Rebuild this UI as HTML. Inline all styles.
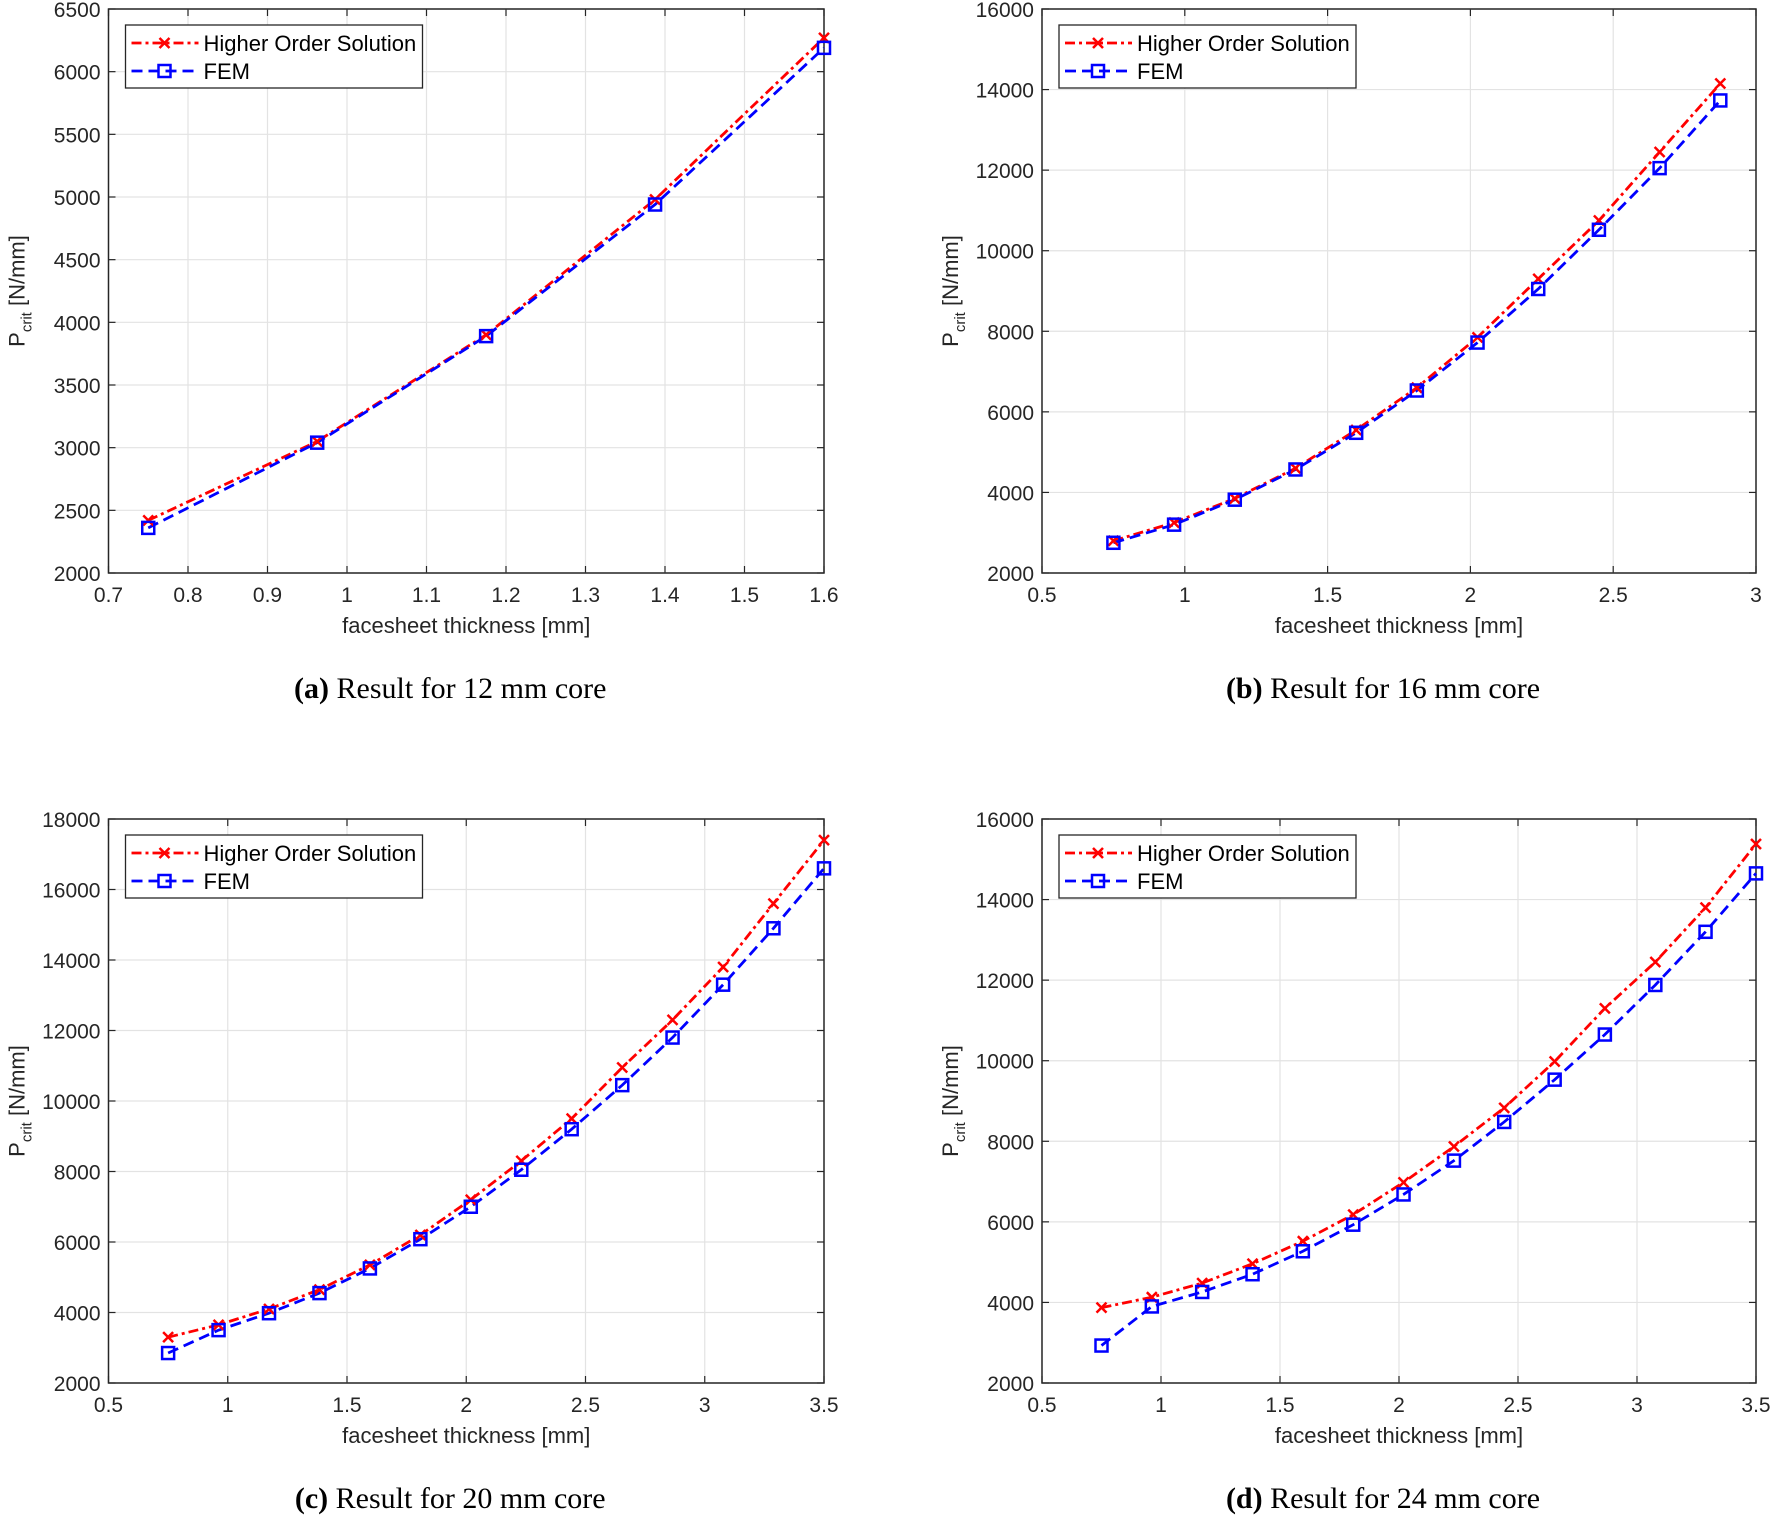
<!DOCTYPE html>
<html><head><meta charset="utf-8"><style>
body{margin:0;background:#fff;width:1772px;height:1515px;overflow:hidden}
svg{position:absolute;left:0;top:0}
</style></head><body>
<svg id="s" width="1772" height="1515" font-family="Liberation Sans, sans-serif"></svg>
<script>
const xsA=[0.75,0.9625,1.175,1.3875,1.6];
const hoA=[2420,3050,3900,4980,6270];
const feA=[2360,3040,3890,4940,6190];
const xsB=[0.75,0.9625,1.175,1.3875,1.6,1.8125,2.025,2.2375,2.45,2.6625,2.875];
const hoB=[2800,3250,3850,4600,5550,6600,7850,9300,10750,12450,14150];
const feB=[2750,3200,3820,4570,5480,6530,7720,9050,10520,12050,13730];
const xsC=[0.75,0.9615,1.173,1.3846,1.596,1.8077,2.019,2.2308,2.442,2.654,2.865,3.077,3.288,3.5];
const hoC=[3300,3650,4100,4650,5350,6200,7200,8300,9500,10950,12300,13800,15600,17400];
const feC=[2850,3500,3980,4550,5250,6080,7000,8050,9200,10450,11800,13300,14900,16600];
const hoD=[3870,4130,4480,4960,5520,6180,6980,7870,8830,9980,11300,12450,13800,15380];
const feD=[2930,3900,4260,4700,5270,5930,6680,7520,8480,9530,10650,11880,13200,14650];
const xtA=[0.7,0.8,0.9,1,1.1,1.2,1.3,1.4,1.5,1.6];
const ytA=[2000,2500,3000,3500,4000,4500,5000,5500,6000,6500];
const xtB=[0.5,1,1.5,2,2.5,3];
const ytB=[2000,4000,6000,8000,10000,12000,14000,16000];
const xtC=[0.5,1,1.5,2,2.5,3,3.5];
const ytC=[2000,4000,6000,8000,10000,12000,14000,16000,18000];
const ytD=[2000,4000,6000,8000,10000,12000,14000,16000];
const NS='http://www.w3.org/2000/svg';
const svg=document.getElementById('s');
function el(t,a,p){const e=document.createElementNS(NS,t);for(const k in a)e.setAttribute(k,a[k]);(p||svg).appendChild(e);return e;}
function panel(id,L,R,T,B,xt,yt,xs,ho,fe,cap,letter){
  const g=el('g',{});
  
  
  const x0=xt[0],x1=xt[xt.length-1],y0=yt[0],y1=yt[yt.length-1];
  const X=v=>L+(v-x0)/(x1-x0)*(R-L), Y=v=>B-(v-y0)/(y1-y0)*(B-T);
  xt.forEach(v=>{const l=el('line',{x1:X(v),x2:X(v),y1:T,y2:B,stroke:'#e3e3e3','stroke-width':1.2},g);
    el('line',{x1:X(v),x2:X(v),y1:B,y2:B-7,stroke:'#262626','stroke-width':1.2},g);el('line',{x1:X(v),x2:X(v),y1:T,y2:T+7,stroke:'#262626','stroke-width':1.2},g);
    const t=el('text',{x:X(v),y:B+29,'font-size':21,'text-anchor':'middle',fill:'#262626'},g);t.textContent=v;});
  yt.forEach(v=>{const l=el('line',{x1:L,x2:R,y1:Y(v),y2:Y(v),stroke:'#e3e3e3','stroke-width':1.2},g);
    el('line',{x1:L,x2:L+7,y1:Y(v),y2:Y(v),stroke:'#262626','stroke-width':1.2},g);el('line',{x1:R,x2:R-7,y1:Y(v),y2:Y(v),stroke:'#262626','stroke-width':1.2},g);
    const t=el('text',{x:L-8,y:Y(v)+8,'font-size':21,'text-anchor':'end',fill:'#262626'},g);t.textContent=v;});
  const fr=el('rect',{x:L,y:T,width:R-L,height:B-T,fill:'none',stroke:'#262626','stroke-width':1.5},g);
  
  const p1=el('polyline',{points:xs.map((v,i)=>X(v)+','+Y(ho[i])).join(' '),fill:'none',stroke:'#ff0000','stroke-width':2.8,'stroke-dasharray':'10 4 3 4'},g);
  
  const p2=el('polyline',{points:xs.map((v,i)=>X(v)+','+Y(fe[i])).join(' '),fill:'none',stroke:'#0000ff','stroke-width':2.8,'stroke-dasharray':'11 6'},g);
  
  xs.forEach((v,i)=>{const cx=X(v),cy=Y(ho[i]),d=5;
    const m=el('path',{d:`M${cx-d},${cy-d}L${cx+d},${cy+d}M${cx-d},${cy+d}L${cx+d},${cy-d}`,stroke:'#ff0000','stroke-width':2.5},g);
    
    const q=el('rect',{x:X(v)-6,y:Y(fe[i])-6,width:12,height:12,fill:'none',stroke:'#0000ff','stroke-width':2.5},g);
    });
  const lg=el('g',{},g);
  const lx=L+17,ly=T+16;
  el('rect',{x:lx,y:ly,width:297,height:63,fill:'#fff',stroke:'#262626','stroke-width':1.3},lg);
  el('line',{x1:lx+6,x2:lx+73,y1:ly+18,y2:ly+18,stroke:'#ff0000','stroke-width':2.8,'stroke-dasharray':'10 4 3 4'},lg);
  el('path',{d:`M${lx+34},${ly+13}l10,10m-10,0l10,-10`,stroke:'#ff0000','stroke-width':2.5},lg);
  let t=el('text',{x:lx+78,y:ly+26,'font-size':22,fill:'#000'},lg);t.textContent='Higher Order Solution';
  el('line',{x1:lx+6,x2:lx+73,y1:ly+46,y2:ly+46,stroke:'#0000ff','stroke-width':2.8,'stroke-dasharray':'11 6'},lg);
  el('rect',{x:lx+33,y:ly+40,width:12,height:12,fill:'none',stroke:'#0000ff','stroke-width':2.5},lg);
  t=el('text',{x:lx+78,y:ly+54,'font-size':22,fill:'#000'},lg);t.textContent='FEM';
  t=el('text',{x:(L+R)/2,y:B+60,'font-size':22,'text-anchor':'middle',fill:'#262626'},g);t.textContent='facesheet thickness [mm]';
  const yx=L-84,yy=(T+B)/2;
  t=el('text',{x:yx,y:yy,'font-size':22,'text-anchor':'middle',fill:'#262626',transform:`rotate(-90 ${yx} ${yy})`},g);
  t.innerHTML='P<tspan dy="7" font-size="15">crit</tspan><tspan dy="-7"> [N/mm]</tspan>';
  
  t=el('text',{x:(L+R)/2-16,y:B+125,'font-size':30,'text-anchor':'middle','font-family':'Liberation Serif, serif',fill:'#000'},g);
  t.innerHTML='<tspan font-weight="bold">('+letter+')</tspan> '+cap;
  
}
panel('a',108.5,824,9,573,xtA,ytA,xsA,hoA,feA,'Result for 12 mm core','a');
panel('b',1042,1756,9,573,xtB,ytB,xsB,hoB,feB,'Result for 16 mm core','b');
panel('c',108.5,824,819,1383,xtC,ytC,xsC,hoC,feC,'Result for 20 mm core','c');
panel('d',1042,1756,819,1383,xtC,ytD,xsC,hoD,feD,'Result for 24 mm core','d');
</script>
</body></html>
